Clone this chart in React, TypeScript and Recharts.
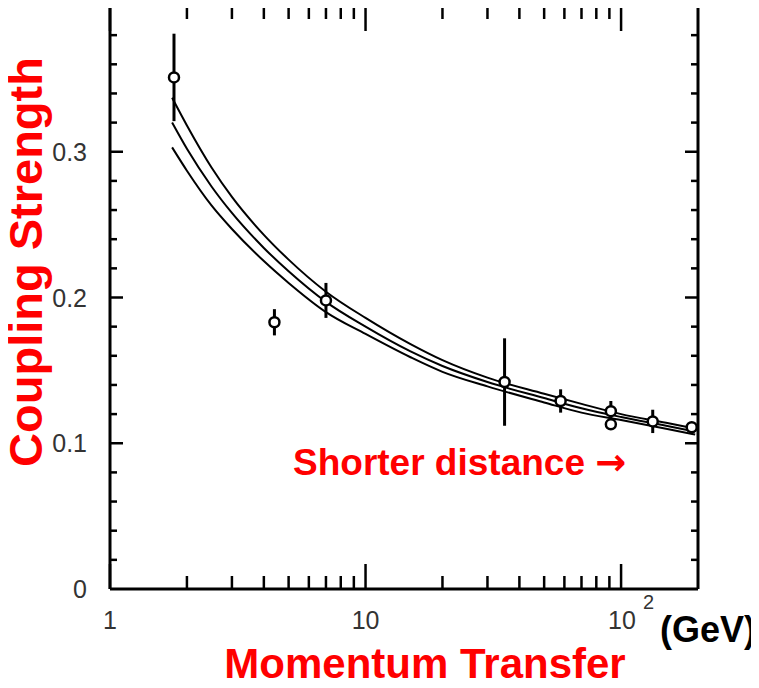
import React from "react";
import { ComposedChart, Line, Scatter, ErrorBar, XAxis, YAxis } from "recharts";

// running coupling band (Q in GeV)
const qGrid = [1.75, 2, 2.5, 3, 4, 5, 7, 10, 15, 20, 30, 50, 70, 100, 150, 195];
const alphaHigh = [0.337, 0.318, 0.289, 0.269, 0.243, 0.226, 0.204, 0.186, 0.168, 0.157, 0.145, 0.134, 0.127, 0.12, 0.114, 0.11];
const alphaMid = [0.32, 0.302, 0.276, 0.258, 0.234, 0.218, 0.197, 0.18, 0.163, 0.153, 0.142, 0.131, 0.124, 0.118, 0.112, 0.108];
const alphaLow = [0.303, 0.287, 0.263, 0.247, 0.225, 0.21, 0.19, 0.175, 0.159, 0.149, 0.139, 0.128, 0.121, 0.116, 0.11, 0.106];

// measurements
const measQ = [1.78, 4.4, 7.0, 35, 58, 91.2, 91.2, 133, 189];
const measAlpha = [0.351, 0.183, 0.198, 0.142, 0.129, 0.122, 0.113, 0.115, 0.111];
const measErr = [0.03, 0.009, 0.012, 0.03, 0.008, 0.007, 0.003, 0.008, 0.003];

const xTicks = [1, 2, 3, 4, 5, 6, 7, 8, 9, 10, 20, 30, 40, 50, 60, 70, 80, 90, 100];
const xMajor = [1, 10, 100];
const yTicks = [0, 0.02, 0.04, 0.06, 0.08, 0.1, 0.12, 0.14, 0.16, 0.18, 0.2, 0.22, 0.24, 0.26, 0.28, 0.3, 0.32, 0.34, 0.36, 0.38];
const yMajor = [0, 0.1, 0.2, 0.3];

const curveRows = qGrid.map((q, i) => ({ q, hi: alphaHigh[i], mid: alphaMid[i], lo: alphaLow[i] }));
const pointRows = measQ.map((q, i) => ({ q, a: measAlpha[i], err: measErr[i] }));

const TICK_FONT = "'Liberation Sans', Arial, sans-serif";
const TICK_COLOR = "#333";
const isYMajor = (v: number) => yMajor.some((m) => Math.abs(m - v) < 1e-9);

const BottomTick = (props: any) => {
  const { x, y, payload } = props;
  const v = payload.value;
  const major = xMajor.includes(v);
  return (
    <g>
      <line x1={x} x2={x} y1={y} y2={y - (major ? 25 : 13)} stroke="#000" strokeWidth={2.5} />
      {major && v !== 100 && (
        <text x={x} y={y + 40} textAnchor="middle" fontSize={25} fontFamily={TICK_FONT} fill={TICK_COLOR}>
          {v}
        </text>
      )}
      {v === 100 && (
        <text x={x - 13} y={y + 40} textAnchor="start" fontSize={25} fontFamily={TICK_FONT} fill={TICK_COLOR}>
          10
          <tspan dx={7} dy={-20} fontSize={20}>2</tspan>
        </text>
      )}
    </g>
  );
};

const TopTick = (props: any) => {
  const { x, y, payload } = props;
  const major = xMajor.includes(payload.value);
  return <line x1={x} x2={x} y1={y} y2={y + (major ? 25 : 13)} stroke="#000" strokeWidth={2.5} />;
};

const LeftTick = (props: any) => {
  const { x, y, payload } = props;
  const v = payload.value;
  const major = isYMajor(v);
  return (
    <g>
      {v > 0 && <line x1={x} x2={x + (major ? 13 : 7)} y1={y} y2={y} stroke="#000" strokeWidth={2.5} />}
      {major && (
        <text x={x - 23} y={y + 9} textAnchor="end" fontSize={25} fontFamily={TICK_FONT} fill={TICK_COLOR}>
          {v === 0 ? "0" : v.toFixed(1)}
        </text>
      )}
    </g>
  );
};

const RightTick = (props: any) => {
  const { x, y, payload } = props;
  const v = payload.value;
  if (v === 0) return <g />;
  const major = isYMajor(v);
  return <line x1={x} x2={x - (major ? 13 : 7)} y1={y} y2={y} stroke="#000" strokeWidth={2.5} />;
};

const OpenCircle = (props: any) => (
  <circle cx={props.cx} cy={props.cy} r={5} fill="#fff" stroke="#000" strokeWidth={2.5} />
);

const frame = { stroke: "#000", strokeWidth: 3 };

export default function App() {
  return (
    <div style={{ margin: -8, position: "relative", width: 759, height: 688, background: "#fff" }}>
      <ComposedChart
        width={759}
        height={688}
        data={curveRows}
        margin={{ top: 5, right: 60, bottom: 98, left: 109 }}
      >
        <XAxis
          dataKey="q"
          type="number"
          scale="log"
          domain={[1, 200]}
          allowDataOverflow
          ticks={xTicks}
          interval={0}
          height={1}
          tickSize={0}
          tickMargin={0}
          tickLine={false}
          axisLine={frame}
          tick={<BottomTick />}
        />
        <XAxis
          xAxisId="top"
          orientation="top"
          dataKey="q"
          type="number"
          scale="log"
          domain={[1, 200]}
          allowDataOverflow
          ticks={xTicks}
          interval={0}
          height={1}
          tickSize={0}
          tickMargin={0}
          tickLine={false}
          axisLine={frame}
          tick={<TopTick />}
        />
        <YAxis
          type="number"
          domain={[0, 0.4]}
          allowDataOverflow
          ticks={yTicks}
          interval={0}
          width={1}
          tickSize={0}
          tickMargin={0}
          tickLine={false}
          axisLine={frame}
          tick={<LeftTick />}
        />
        <YAxis
          yAxisId="right"
          orientation="right"
          type="number"
          domain={[0, 0.4]}
          allowDataOverflow
          ticks={yTicks}
          interval={0}
          width={1}
          tickSize={0}
          tickMargin={0}
          tickLine={false}
          axisLine={frame}
          tick={<RightTick />}
        />
        <Line dataKey="hi" type="monotone" stroke="#000" strokeWidth={2} dot={false} isAnimationActive={false} />
        <Line dataKey="mid" type="monotone" stroke="#000" strokeWidth={2} dot={false} isAnimationActive={false} />
        <Line dataKey="lo" type="monotone" stroke="#000" strokeWidth={2} dot={false} isAnimationActive={false} />
        <Scatter data={pointRows} dataKey="a" shape={<OpenCircle />} isAnimationActive={false}>
          <ErrorBar dataKey="err" direction="y" width={0} stroke="#000" strokeWidth={3} isAnimationActive={false} />
        </Scatter>
      </ComposedChart>
      <svg
        width={759}
        height={688}
        style={{ position: "absolute", left: 0, top: 0, pointerEvents: "none" }}
        fontFamily="'Liberation Sans', Arial, sans-serif"
        fontWeight="bold"
      >
        <text x={42} y={262} transform="rotate(-90 42 262)" textAnchor="middle" fontSize={47} fill="#ff0000">
          Coupling Strength
        </text>
        <text x={425} y={678} textAnchor="middle" fontSize={42} fill="#ff0000">
          Momentum Transfer
        </text>
        <text x={660} y={642} fontSize={36} fill="#000">
          (GeV)
        </text>
        <text x={293} y={475} fontSize={37} fill="#ff0000">
          Shorter distance <tspan fontFamily="'DejaVu Sans', sans-serif">→</tspan>
        </text>
      </svg>
    </div>
  );
}
